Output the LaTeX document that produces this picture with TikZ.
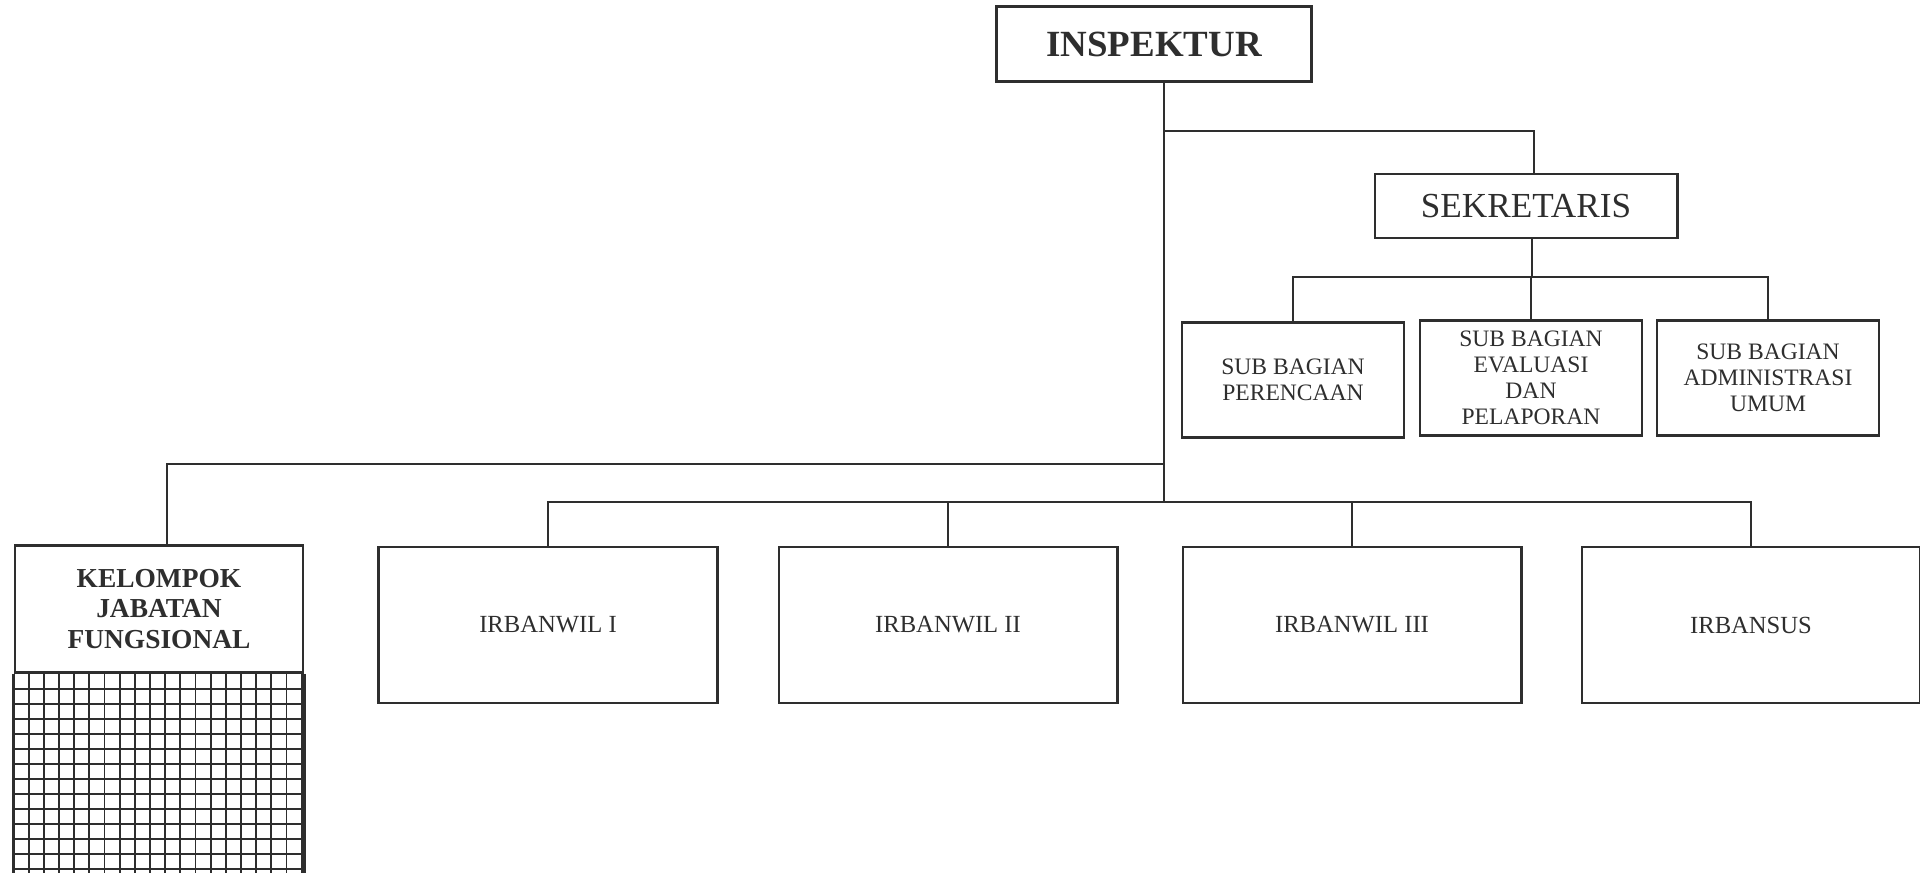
\documentclass[tikz,border=0pt]{standalone}
\usepackage{fontspec}
\setmainfont{Liberation Serif}
\definecolor{ink}{HTML}{2E2E2E}
\begin{document}
\begin{tikzpicture}[x=0.01cm, y=-0.01cm,
  box/.style={draw=ink, line width=0.8pt, text=ink, align=center, inner sep=0pt},
  subbox/.style={box, minimum width=2.22cm, minimum height=1.15cm, font=\fontsize{6.7}{7.4}\selectfont},
  irbox/.style={box, minimum width=3.38cm, minimum height=1.56cm, font=\fontsize{7}{8}\selectfont},
  link/.style={draw=ink, line width=0.6pt},
  gridline/.style={draw=ink, line width=0.5pt}]
  \useasboundingbox (0,0) rectangle (1920,873);
  \node[box, minimum width=3.15cm, minimum height=0.75cm, font=\fontsize{10.5}{12}\selectfont\bfseries] (insp) at (1154,44) {INSPEKTUR};
  \node[box, minimum width=3.02cm, minimum height=0.64cm, font=\fontsize{10}{12}\selectfont] (sek) at (1526,206) {SEKRETARIS};
  \node[subbox] (sb1) at (1293,380) {SUB BAGIAN\\PERENCAAN};
  \node[subbox] (sb2) at (1531,378) {SUB BAGIAN\\EVALUASI\\DAN\\PELAPORAN};
  \node[subbox] (sb3) at (1768,378) {SUB BAGIAN\\ADMINISTRASI\\UMUM};
  \node[irbox] (irb1) at (548,625) {IRBANWIL I};
  \node[irbox] (irb2) at (948,625) {IRBANWIL II};
  \node[irbox] (irb3) at (1352,625) {IRBANWIL III};
  \node[irbox] (irbsus) at (1751,625) {IRBANSUS};
  \node[box, minimum width=2.88cm, minimum height=1.27cm, font=\fontsize{7.8}{8.7}\selectfont\bfseries] (kjf) at (159,609) {KELOMPOK\\JABATAN\\FUNGSIONAL};
  \foreach \i in {0,...,19}
    \draw[gridline] ([xshift=\i*0.1516cm]kjf.south west) -- ++(0,200);
  \foreach \j in {1,...,13}
    \draw[gridline] ([yshift=-\j*0.15cm]kjf.south west) -- ++(288,0);
  \draw[box] (kjf.south west) -- ++(0,200);
  \draw[box] (kjf.south east) -- ++(0,200);
  \coordinate (trunk) at (1164,502);
  \coordinate (jsek) at (1164,131);
  \coordinate (jkjf) at (1164,464);
  \coordinate (busa) at (1531,277);
  \draw[link] (insp.south -| trunk) -- (trunk);
  \draw[link] (jsek) -| ([xshift=0.08cm]sek.north);
  \draw[link] ([xshift=0.06cm]sek.south) -- ([xshift=0.06cm]sek.south |- busa);
  \draw[link] (sb1.north) |- (busa) -| (sb3.north);
  \draw[link] (sb2.north) -- (sb2.north |- busa);
  \draw[link] (jkjf) -| ([xshift=0.08cm]kjf.north);
  \draw[link] (irb1.north) |- (trunk) -| (irbsus.north);
  \draw[link] (irb2.north) -- (irb2.north |- trunk);
  \draw[link] (irb3.north) -- (irb3.north |- trunk);
\end{tikzpicture}
\end{document}
